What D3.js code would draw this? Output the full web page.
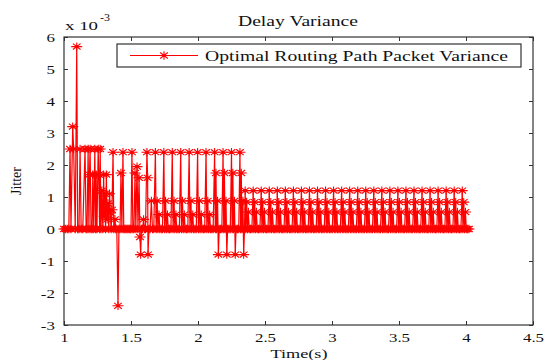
<!DOCTYPE html>
<html>
<head>
<meta charset="utf-8">
<script src="https://cdn.jsdelivr.net/npm/d3@7"></script>
<style>
  body { margin: 0; background: #fff; }
  svg { display: block; font-family: "Liberation Serif", "Times New Roman", serif; }
</style>
</head>
<body>
<svg id="chart" width="546" height="360"></svg>
<script>
const xTicks = [1, 1.5, 2, 2.5, 3, 3.5, 4, 4.5];
const yTicks = [-3, -2, -1, 0, 1, 2, 3, 4, 5, 6];
const seriesName = 'Optimal Routing Path Packet Variance';

// [time (s), jitter (x 10^-3)]
const startupBurst = [
  [1.000,0],[1.012,0],[1.024,0],[1.036,0],[1.045,2.5],[1.052,0],[1.065,3.2],[1.072,2.5],
  [1.084,0],[1.095,5.7],[1.102,0],[1.112,0],[1.120,2.5],[1.128,0],[1.140,0],[1.157,2.5],
  [1.165,0],[1.172,0],[1.180,2.5],[1.186,0],[1.190,1.7],[1.195,2.5],[1.202,0],[1.210,0],
  [1.215,1.7],[1.222,0],[1.230,2.5],[1.236,0],[1.240,1.7],[1.246,0],[1.255,2.5],[1.260,1.7],
  [1.266,0],[1.270,2.5],[1.276,0],[1.282,1.2],[1.290,0],[1.296,1.7],[1.300,0.4],[1.306,1.1],
  [1.310,0],[1.316,1.7],[1.322,0.3],[1.328,0.8],[1.334,0],[1.340,1.1],[1.346,0.5],[1.352,0],
  [1.358,0.6]
];
const settling = [
  [1.366,2.4],[1.372,0],[1.380,0.3],[1.386,0],[1.394,0],[1.403,-2.4],[1.410,0],[1.418,0],
  [1.425,1.75],[1.432,0],[1.440,2.4],[1.446,0],[1.454,0],[1.462,0],[1.470,0],[1.478,0],
  [1.486,0],[1.494,0],[1.500,0],[1.507,2.4],[1.514,0],[1.522,0],[1.530,1.75],[1.536,0],
  [1.545,1.95],[1.552,0],[1.560,1.6],[1.567,-0.25],[1.572,-0.8],[1.578,0],[1.586,0],[1.594,0.3],
  [1.600,0],[1.608,0],[1.619,2.4],[1.624,1.6],[1.627,-0.8],[1.634,0],[1.642,0],[1.652,0.88],
  [1.660,0],[1.670,0]
];
const highSpikes = [
  [1.682,2.4],[1.688,0],[1.695,0.88],[1.701,0],[1.709,0.45],[1.715,0],[1.725,0],[1.735,0],
  [1.745,2.4],[1.751,0],[1.758,0.88],[1.764,0],[1.772,0.45],[1.778,0],[1.788,0],[1.798,0],
  [1.808,2.4],[1.814,0],[1.821,0.88],[1.827,0],[1.835,0.45],[1.841,0],[1.851,0],[1.861,0],
  [1.871,2.4],[1.877,0],[1.884,0.88],[1.890,0],[1.898,0.45],[1.904,0],[1.914,0],[1.924,0],
  [1.934,2.4],[1.940,0],[1.947,0.88],[1.953,0],[1.961,0.45],[1.967,0],[1.977,0],[1.987,0],
  [1.997,2.4],[2.003,0],[2.010,0.88],[2.016,0],[2.024,0.45],[2.030,0],[2.040,0],[2.050,0],
  [2.060,2.4],[2.066,0],[2.073,0.88],[2.079,0],[2.087,0.45],[2.093,0],[2.103,0],[2.113,0],
  [2.124,2.4],[2.129,0],[2.134,1.75],[2.139,0],[2.146,0.88],[2.152,-0.8],[2.158,0],[2.168,0],[2.178,0],
  [2.187,2.4],[2.192,0],[2.197,1.75],[2.202,0],[2.209,0.88],[2.215,-0.8],[2.221,0],[2.231,0],[2.241,0],
  [2.250,2.4],[2.255,0],[2.260,1.75],[2.265,0],[2.272,0.88],[2.278,-0.8],[2.284,0],[2.294,0],[2.304,0],
  [2.313,2.4],[2.318,0],[2.323,1.75],[2.328,0],[2.335,0.88],[2.341,-0.8],[2.347,0]
];
const steadySpikes = [
  [2.352,1.2],[2.357,0],[2.363,0.84],[2.369,0],[2.376,0.53],[2.382,0],[2.392,0],[2.402,0],
  [2.412,1.2],[2.417,0],[2.423,0.84],[2.429,0],[2.436,0.53],[2.442,0],[2.452,0],[2.462,0],
  [2.472,1.2],[2.477,0],[2.483,0.84],[2.489,0],[2.496,0.53],[2.502,0],[2.512,0],[2.522,0],
  [2.532,1.2],[2.537,0],[2.543,0.84],[2.549,0],[2.556,0.53],[2.562,0],[2.572,0],[2.582,0],
  [2.592,1.2],[2.597,0],[2.603,0.84],[2.609,0],[2.616,0.53],[2.622,0],[2.632,0],[2.642,0],
  [2.652,1.2],[2.657,0],[2.663,0.84],[2.669,0],[2.676,0.53],[2.682,0],[2.692,0],[2.702,0],
  [2.712,1.2],[2.717,0],[2.723,0.84],[2.729,0],[2.736,0.53],[2.742,0],[2.752,0],[2.762,0],
  [2.772,1.2],[2.777,0],[2.783,0.84],[2.789,0],[2.796,0.53],[2.802,0],[2.812,0],[2.822,0],
  [2.832,1.2],[2.837,0],[2.843,0.84],[2.849,0],[2.856,0.53],[2.862,0],[2.872,0],[2.882,0],
  [2.892,1.2],[2.897,0],[2.903,0.84],[2.909,0],[2.916,0.53],[2.922,0],[2.932,0],[2.942,0],
  [2.952,1.2],[2.957,0],[2.963,0.84],[2.969,0],[2.976,0.53],[2.982,0],[2.992,0],[3.002,0],
  [3.012,1.2],[3.017,0],[3.023,0.84],[3.029,0],[3.036,0.53],[3.042,0],[3.052,0],[3.062,0],
  [3.072,1.2],[3.077,0],[3.083,0.84],[3.089,0],[3.096,0.53],[3.102,0],[3.112,0],[3.122,0],
  [3.132,1.2],[3.137,0],[3.143,0.84],[3.149,0],[3.156,0.53],[3.162,0],[3.172,0],[3.182,0],
  [3.192,1.2],[3.197,0],[3.203,0.84],[3.209,0],[3.216,0.53],[3.222,0],[3.232,0],[3.242,0],
  [3.252,1.2],[3.257,0],[3.263,0.84],[3.269,0],[3.276,0.53],[3.282,0],[3.292,0],[3.302,0],
  [3.312,1.2],[3.317,0],[3.323,0.84],[3.329,0],[3.336,0.53],[3.342,0],[3.352,0],[3.362,0],
  [3.372,1.2],[3.377,0],[3.383,0.84],[3.389,0],[3.396,0.53],[3.402,0],[3.412,0],[3.422,0],
  [3.432,1.2],[3.437,0],[3.443,0.84],[3.449,0],[3.456,0.53],[3.462,0],[3.472,0],[3.482,0],
  [3.492,1.2],[3.497,0],[3.503,0.84],[3.509,0],[3.516,0.53],[3.522,0],[3.532,0],[3.542,0],
  [3.552,1.2],[3.557,0],[3.563,0.84],[3.569,0],[3.576,0.53],[3.582,0],[3.592,0],[3.602,0],
  [3.612,1.2],[3.617,0],[3.623,0.84],[3.629,0],[3.636,0.53],[3.642,0],[3.652,0],[3.662,0],
  [3.672,1.2],[3.677,0],[3.683,0.84],[3.689,0],[3.696,0.53],[3.702,0],[3.712,0],[3.722,0],
  [3.732,1.2],[3.737,0],[3.743,0.84],[3.749,0],[3.756,0.53],[3.762,0],[3.772,0],[3.782,0],
  [3.792,1.2],[3.797,0],[3.803,0.84],[3.809,0],[3.816,0.53],[3.822,0],[3.832,0],[3.842,0],
  [3.852,1.2],[3.857,0],[3.863,0.84],[3.869,0],[3.876,0.53],[3.882,0],[3.892,0],[3.902,0],
  [3.912,1.2],[3.917,0],[3.923,0.84],[3.929,0],[3.936,0.53],[3.942,0],[3.952,0],[3.962,0],
  [3.972,1.2],[3.977,0],[3.983,0.84],[3.989,0],[3.996,0.53],[4.002,0],[4.012,0],[4.022,0]
];

const points = startupBurst.concat(settling, highSpikes, steadySpikes);

const red = '#ff0000';
const ink = '#333';
const margin = { top: 37, right: 13, bottom: 35, left: 64 };
const width = 546, height = 360;
const svg = d3.select('#chart');

const x = d3.scaleLinear().domain([1, 4.5]).range([margin.left, width - margin.right]);
const y = d3.scaleLinear().domain([-3, 6]).range([height - margin.bottom, margin.top]);

// matlab-ish '*' marker, a bit wider than tall like the picture
function star(w, h) {
  const dw = w * 0.7, dh = h * 0.7;
  return `M${-w},0L${w},0M0,${-h}L0,${h}M${-dw},${-dh}L${dw},${dh}M${-dw},${dh}L${dw},${-dh}`;
}

// frame + inward ticks on all sides
const fmt = d => String(d);
const stretch = 'scale(1.3,1)';

svg.append('g')
  .attr('transform', `translate(0,${y(-3)})`)
  .call(d3.axisBottom(x).tickValues(xTicks).tickFormat(fmt).tickSizeInner(-4).tickSizeOuter(0).tickPadding(8));
svg.append('g')
  .attr('transform', `translate(0,${y(6)})`)
  .call(d3.axisTop(x).tickValues(xTicks).tickFormat('').tickSizeInner(-4).tickSizeOuter(0));
svg.append('g')
  .attr('transform', `translate(${x(1)},0)`)
  .call(d3.axisLeft(y).tickValues(yTicks).tickFormat(fmt).tickSizeInner(-4).tickSizeOuter(0).tickPadding(7));
svg.append('g')
  .attr('transform', `translate(${x(4.5)},0)`)
  .call(d3.axisRight(y).tickValues(yTicks).tickFormat('').tickSizeInner(-4).tickSizeOuter(0));

svg.selectAll('.domain').remove();
svg.selectAll('.tick line').attr('stroke', ink);
svg.selectAll('.tick text')
  .attr('fill', '#111')
  .style('font-family', '"Liberation Serif", serif')
  .style('font-size', '13px')
  .attr('transform', stretch);

svg.append('rect')
  .attr('x', x(1)).attr('y', y(6))
  .attr('width', x(4.5) - x(1)).attr('height', y(-3) - y(6))
  .attr('fill', 'none').attr('stroke', ink).attr('stroke-width', 1.2);

// series
const plot = svg.append('g');
plot.append('path')
  .datum(points)
  .attr('fill', 'none')
  .attr('stroke', red)
  .attr('stroke-width', 1.2)
  .attr('d', d3.line().x(d => x(d[0])).y(d => y(d[1])));

plot.selectAll('path.marker')
  .data(points)
  .join('path')
  .attr('class', 'marker')
  .attr('transform', d => `translate(${x(d[0])},${y(d[1])})`)
  .attr('d', star(5.5, 4.2))
  .attr('fill', 'none')
  .attr('stroke', red)
  .attr('stroke-width', 1.1);

// legend
const lg = svg.append('g');
lg.append('rect')
  .attr('x', 117).attr('y', 44).attr('width', 404).attr('height', 23)
  .attr('fill', '#fff').attr('stroke', ink).attr('stroke-width', 1.2);
lg.append('line')
  .attr('x1', 130).attr('x2', 198).attr('y1', 55.5).attr('y2', 55.5)
  .attr('stroke', red).attr('stroke-width', 1.2);
lg.append('path')
  .attr('transform', 'translate(164,55.5)')
  .attr('d', star(5.5, 4.2))
  .attr('fill', 'none').attr('stroke', red).attr('stroke-width', 1.1);
lg.append('text')
  .attr('x', 205).attr('y', 61)
  .attr('textLength', 303).attr('lengthAdjust', 'spacingAndGlyphs')
  .style('font-size', '15px').attr('fill', '#111')
  .text(seriesName);

// titles
svg.append('text')
  .attr('x', 298).attr('y', 26).attr('text-anchor', 'middle')
  .attr('textLength', 120).attr('lengthAdjust', 'spacingAndGlyphs')
  .style('font-size', '14px').attr('fill', '#111')
  .text('Delay Variance');

svg.append('text')
  .attr('x', 299).attr('y', 358).attr('text-anchor', 'middle')
  .attr('textLength', 57).attr('lengthAdjust', 'spacingAndGlyphs')
  .style('font-size', '13px').attr('fill', '#111')
  .text('Time(s)');

svg.append('text')
  .attr('transform', `translate(21,${(y(6) + y(-3)) / 2}) rotate(-90)`)
  .attr('text-anchor', 'middle')
  .style('font-size', '14px').attr('fill', '#111')
  .text('Jitter');

const ex = svg.append('text')
  .attr('x', 65).attr('y', 30)
  .style('font-size', '13px').attr('fill', '#111');
ex.append('tspan').attr('textLength', 33).attr('lengthAdjust', 'spacingAndGlyphs').text('x 10');
ex.append('tspan').attr('x', 100).attr('y', 21).style('font-size', '10px')
  .attr('textLength', 10).attr('lengthAdjust', 'spacingAndGlyphs').text('-3');
</script>
</body>
</html>
